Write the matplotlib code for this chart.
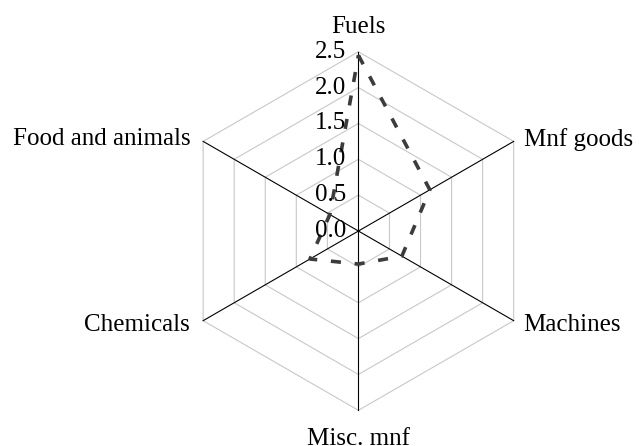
import numpy as np
import matplotlib
matplotlib.use("Agg")
import matplotlib.pyplot as plt

categories = ["Fuels", "Mnf goods", "Machines", "Misc. mnf", "Chemicals", "Food and animals"]
values = [2.45, 1.15, 0.70, 0.46, 0.78, 0.46]
ticks = [0.0, 0.5, 1.0, 1.5, 2.0, 2.5]
tick_labels = ["0.0", "0.5", "1.0", "1.5", "2.0", "2.5"]

plt.rcParams["font.family"] = ["Liberation Serif", "DejaVu Serif"]
FS = 18

fig = plt.figure(figsize=(6.39, 4.46), dpi=100)
ax = fig.add_axes([0.2803, 0.0800, 0.5612, 0.8040], projection="polar")
ax.set_theta_offset(np.pi / 2)
ax.set_theta_direction(-1)
ax.set_ylim(0, ticks[-1])
ax.grid(False)
ax.spines["polar"].set_visible(False)
ax.set_xticks([])
ax.set_yticks([])
ax.patch.set_visible(False)

angles = np.linspace(0, 2 * np.pi, len(categories), endpoint=False)
closed = np.append(angles, angles[0])

# hexagon rings
for t in ticks[1:]:
    ax.plot(closed, [t] * len(closed), color="#c8c8c8", lw=0.8,
            clip_on=False, zorder=1)

# spokes
for a in angles:
    ax.plot([a, a], [0, ticks[-1]], color="black", lw=0.8,
            clip_on=False, zorder=2)

# data
ax.plot(closed, values + values[:1], color="#3c3c3c", lw=2.6,
        linestyle=(0, (2.8, 3.8)), clip_on=False, zorder=3)

# category labels (offsets in pixels)
label_pos = {
    "Fuels": ((0, 19), "center", "baseline"),
    "Mnf goods": ((10, 2), "left", "center"),
    "Machines": ((10, -4), "left", "center"),
    "Misc. mnf": ((0, -18), "center", "top"),
    "Chemicals": ((-13, -4), "right", "center"),
    "Food and animals": ((-13, 2), "right", "center"),
}
for a, name in zip(angles, categories):
    off, ha, va = label_pos[name]
    ax.annotate(name, (a, ticks[-1]), xytext=off, textcoords="offset pixels",
                ha=ha, va=va, fontsize=FS, annotation_clip=False)

# radial tick labels along the Fuels axis
for t, lab in zip(ticks, tick_labels):
    ax.annotate(lab, (0, t), xytext=(-12, 0), textcoords="offset pixels",
                ha="right", va="center", fontsize=FS, annotation_clip=False,
                zorder=4)

fig.savefig("out.png", dpi=100)
